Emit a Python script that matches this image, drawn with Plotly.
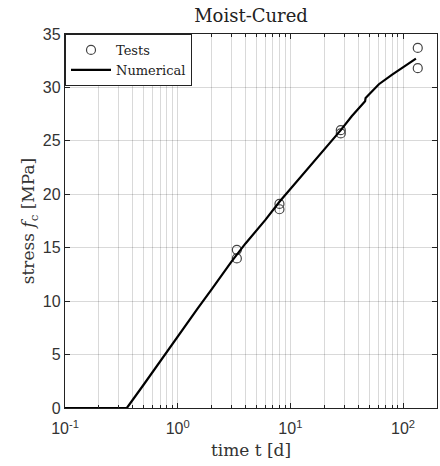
import plotly.graph_objects as go

# Test data
test_t = [3.35, 3.35, 8.0, 8.0, 28.0, 28.0, 135.0, 135.0]
test_f = [14.8, 14.0, 19.1, 18.6, 26.0, 25.7, 33.7, 31.8]

# Numerical curve
num_t = [0.1, 0.354, 0.5, 0.7, 1, 1.5, 2, 3, 4, 5, 6, 8, 10, 15, 20, 28, 35, 46, 46.5, 61, 80, 100, 130]
num_f = [0, 0, 2.2, 4.4, 6.7, 9.3, 11.1, 13.7, 15.4, 16.6, 17.6, 19.3, 20.5, 22.6, 24.2, 26.0, 27.3, 28.7, 29.0, 30.3, 31.2, 31.9, 32.7]

x_major = [0.1, 1, 10, 100]
x_major_text = ["10<sup>-1</sup>", "10<sup>0</sup>", "10<sup>1</sup>", "10<sup>2</sup>"]
x_minor = [m * d for d in [0.1, 1, 10] for m in range(2, 10)] + [200]
y_ticks = [0, 5, 10, 15, 20, 25, 30, 35]

serif = "DejaVu Serif"
sans = "Liberation Sans"
grid = "rgba(0,0,0,0.15)"

fig = go.Figure()
fig.add_trace(go.Scatter(x=test_t, y=test_f, mode="markers", name="Tests",
                         marker=dict(symbol="circle-open", size=9, color="#444",
                                     line=dict(width=1.2, color="#444"))))
fig.add_trace(go.Scatter(x=num_t, y=num_f, mode="lines", name="Numerical",
                         line=dict(color="black", width=2.2)))

fig.update_layout(
    width=440, height=466,
    margin=dict(l=65, r=3, t=34, b=58),
    paper_bgcolor="white", plot_bgcolor="white",
    title=dict(text="Moist-Cured", x=0.5705, xanchor="center", y=0.98, yanchor="top",
               font=dict(family=serif, size=18, color="#222")),
    showlegend=True,
    legend=dict(x=0, y=1, xanchor="left", yanchor="top", bgcolor="white",
                bordercolor="#222", borderwidth=1,
                font=dict(family=serif, size=13, color="#222"),
                tracegroupgap=0, itemwidth=40),
    xaxis=dict(type="log", range=[-1, 2.30103],
               tickvals=x_major, ticktext=x_major_text,
               ticks="inside", ticklen=5, tickcolor="#222",
               showgrid=True, gridcolor=grid, gridwidth=1,
               showline=True, linecolor="#222", linewidth=1.3, mirror="ticks",
               minor=dict(tickvals=x_minor, ticks="inside", ticklen=3, tickcolor="#222",
                          showgrid=True, gridcolor=grid, gridwidth=1),
               tickfont=dict(family=sans, size=16, color="#333"),
               ticklabelstandoff=6,
               title=dict(text="time t [d]", font=dict(family=serif, size=17, color="#333"), standoff=7),
               zeroline=False),
    yaxis=dict(range=[0, 35], tickvals=y_ticks,
               ticks="inside", ticklen=5, tickcolor="#222",
               showgrid=True, gridcolor=grid, gridwidth=1,
               showline=True, linecolor="#222", linewidth=1.3, mirror="ticks",
               tickfont=dict(family=sans, size=16, color="#333"),
               title=dict(text="stress <i>f</i><sub>c</sub> [MPa]",
                          font=dict(family=serif, size=17, color="#333"), standoff=3),
               zeroline=False),
)

fig.write_html("out.html")
